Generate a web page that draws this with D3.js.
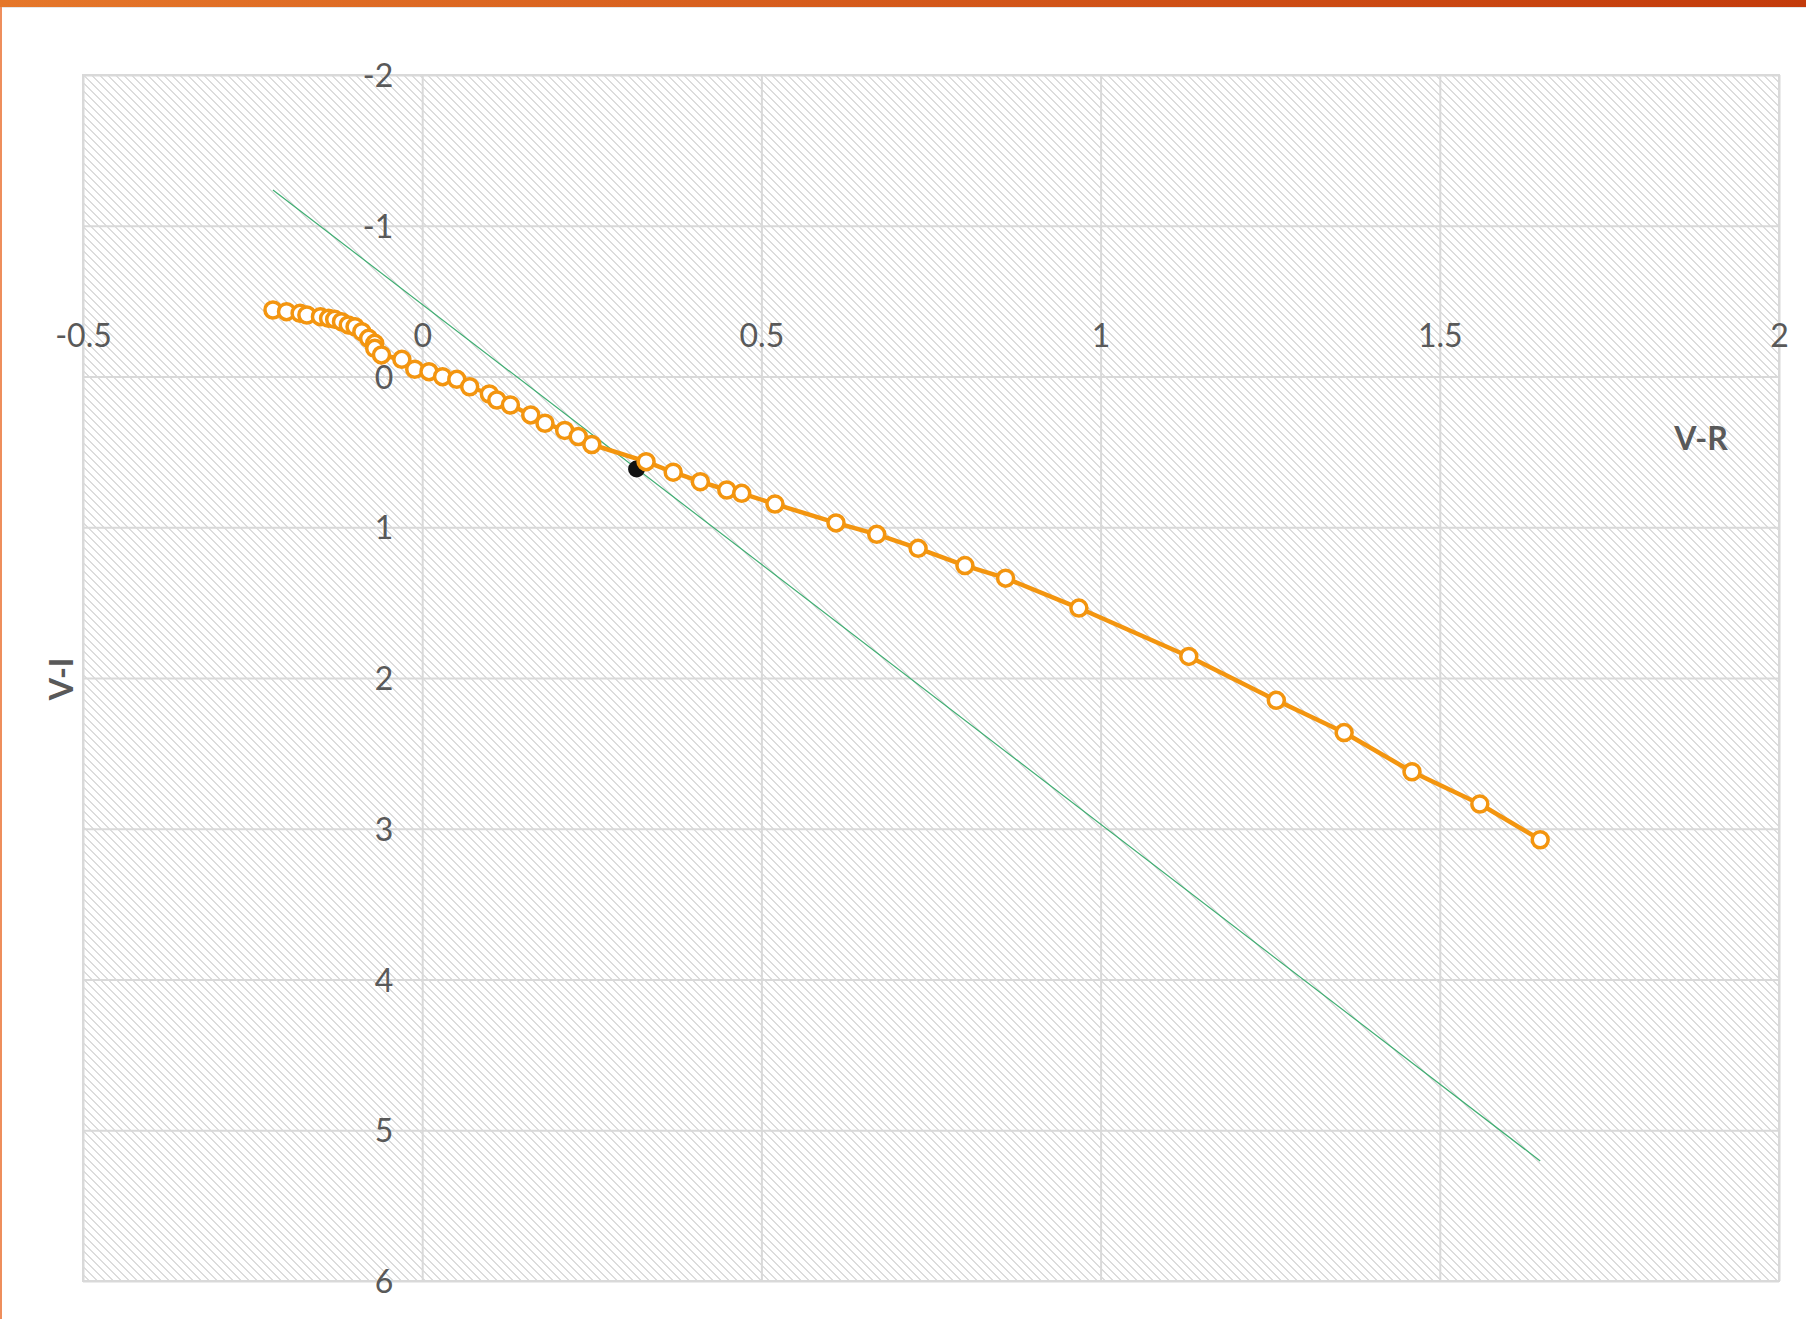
<!DOCTYPE html>
<html>
<head>
<meta charset="utf-8">
<script src="https://cdn.jsdelivr.net/npm/d3@7"></script>
<style>
  html, body { margin: 0; padding: 0; background: #fff; }
  svg { display: block; }
</style>
</head>
<body>
<script>
// ---- data ----
const vrValues = [-0.220, -0.200, -0.180, -0.170, -0.150, -0.138, -0.129, -0.119, -0.109, -0.099,
  -0.089, -0.079, -0.070, -0.070, -0.060, -0.030, -0.011, 0.010, 0.030, 0.051,
  0.070, 0.099, 0.110, 0.130, 0.160, 0.181, 0.210, 0.230, 0.250, 0.330,
  0.370, 0.410, 0.449, 0.471, 0.520, 0.610, 0.670, 0.731, 0.800, 0.860,
  0.968, 1.130, 1.259, 1.359, 1.459, 1.559, 1.648];
const viValues = [-0.441, -0.430, -0.419, -0.408, -0.397, -0.386, -0.379, -0.364, -0.342, -0.330,
  -0.297, -0.253, -0.220, -0.187, -0.143, -0.114, -0.048, -0.032, 0.001, 0.019,
  0.068, 0.116, 0.156, 0.189, 0.255, 0.310, 0.358, 0.398, 0.451, 0.565,
  0.635, 0.698, 0.753, 0.775, 0.846, 0.971, 1.047, 1.140, 1.254, 1.338,
  1.536, 1.857, 2.148, 2.362, 2.622, 2.836, 3.073];
const markedVR = [0.316];
const markedVI = [0.614];
const fitVR = [-0.220, 1.648];
const fitVI = [-1.237, 5.204];
const xTicks = [-0.5, 0, 0.5, 1, 1.5, 2];
const xTickLabels = ["-0.5", "0", "0.5", "1", "1.5", "2"];
const yTicks = [-2, -1, 0, 1, 2, 3, 4, 5, 6];
const yTickLabels = ["-2", "-1", "0", "1", "2", "3", "4", "5", "6"];
const xTitle = "V-R";
const yTitle = "V-I";

// ---- layout ----
const W = 1806, H = 1319;
const plot = { left: 83, top: 75, right: 1779, bottom: 1281 };
const font = "Lato, 'Open Sans', sans-serif";
const textColor = "#595959";
const gridColor = "#d9d9d9";
const orange = "#F3950F";

const svg = d3.select("body").append("svg").attr("width", W).attr("height", H);
const defs = svg.append("defs");

// top gradient bar
const grad = defs.append("linearGradient").attr("id", "topbar").attr("x1", "0%").attr("x2", "100%");
grad.append("stop").attr("offset", "0%").attr("stop-color", "#E5772A");
grad.append("stop").attr("offset", "100%").attr("stop-color", "#C33B0B");

// hatch pattern
const pat = defs.append("pattern").attr("id", "hatch").attr("patternUnits", "userSpaceOnUse")
  .attr("x", 0).attr("y", 0).attr("width", 8).attr("height", 8);
pat.append("rect").attr("width", 8).attr("height", 8).attr("fill", "#fff");
const cells = [];
for (let yy = 0; yy < 8; yy++) for (let xx = 0; xx < 8; xx++) {
  const d = ((xx - yy) % 8 + 8) % 8;
  if (d === 0 || d === 1) cells.push([xx, yy]);
}
pat.selectAll("rect.c").data(cells).join("rect").attr("class", "c")
  .attr("x", d => d[0]).attr("y", d => d[1]).attr("width", 1).attr("height", 1)
  .attr("fill", "#dcdcdc").attr("shape-rendering", "crispEdges");

// frame decorations
svg.append("rect").attr("x", 0).attr("y", 0).attr("width", W).attr("height", 7).attr("fill", "url(#topbar)");
svg.append("rect").attr("x", 0).attr("y", 7).attr("width", W).attr("height", 1).attr("fill", "#e6e6e6");
svg.append("rect").attr("x", 0).attr("y", 7).attr("width", 2).attr("height", H - 7).attr("fill", "#EE8E5C");

// scales
const x = d3.scaleLinear().domain([-0.5, 2]).range([plot.left, plot.right]);
const y = d3.scaleLinear().domain([-2, 6]).range([plot.top, plot.bottom]);

// plot background
svg.append("rect").attr("x", plot.left).attr("y", plot.top)
  .attr("width", plot.right - plot.left).attr("height", plot.bottom - plot.top)
  .attr("fill", "url(#hatch)");

// gridlines via axes
const gx = svg.append("g").attr("transform", `translate(0,${plot.bottom})`)
  .call(d3.axisBottom(x).tickValues(xTicks).tickSize(-(plot.bottom - plot.top)).tickFormat(""));
const gy = svg.append("g").attr("transform", `translate(${plot.left},0)`)
  .call(d3.axisLeft(y).tickValues(yTicks).tickSize(-(plot.right - plot.left)).tickFormat(""));
[gx, gy].forEach(g => {
  g.select(".domain").remove();
  g.selectAll(".tick line").attr("stroke", gridColor).attr("stroke-width", 2);
});

// plot border
svg.append("rect").attr("x", plot.left).attr("y", plot.top)
  .attr("width", plot.right - plot.left).attr("height", plot.bottom - plot.top)
  .attr("fill", "none").attr("stroke", gridColor).attr("stroke-width", 2);

// tick labels: x labels above y=0 line, y labels left of x=0 line
const ax = svg.append("g").attr("transform", `translate(0,${y(0)})`)
  .call(d3.axisTop(x).tickValues(xTicks).tickSize(0).tickPadding(30)
    .tickFormat((d, i) => xTickLabels[i]));
const ay = svg.append("g").attr("transform", `translate(${x(0)},0)`)
  .call(d3.axisLeft(y).tickValues(yTicks).tickSize(0).tickPadding(29)
    .tickFormat((d, i) => yTickLabels[i]));
[ax, ay].forEach(g => {
  g.select(".domain").remove();
  g.selectAll("text").attr("fill", textColor).style("font-family", font).style("font-size", "32px");
});
ay.selectAll("text").attr("dy", "0.36em");

// fit line
svg.append("line")
  .attr("x1", x(fitVR[0])).attr("y1", y(fitVI[0]))
  .attr("x2", x(fitVR[1])).attr("y2", y(fitVI[1]))
  .attr("stroke", "#3FAE72").attr("stroke-width", 1.2);

// series
const pts = vrValues.map((v, i) => [v, viValues[i]]);
svg.append("path").datum(pts)
  .attr("d", d3.line().x(d => x(d[0])).y(d => y(d[1])))
  .attr("fill", "none").attr("stroke", orange).attr("stroke-width", 4.5).attr("stroke-linejoin", "round");

// marked point
svg.selectAll("circle.mk").data(markedVR.map((v, i) => [v, markedVI[i]])).join("circle")
  .attr("class", "mk").attr("cx", d => x(d[0])).attr("cy", d => y(d[1])).attr("r", 8.5)
  .attr("fill", "#111");

svg.selectAll("circle.pt").data(pts).join("circle")
  .attr("class", "pt").attr("cx", d => x(d[0])).attr("cy", d => y(d[1])).attr("r", 8)
  .attr("fill", "#fff").attr("stroke", orange).attr("stroke-width", 3.5);

// axis titles
svg.append("text").attr("x", 1701).attr("y", 438).attr("text-anchor", "middle").attr("dy", "0.36em")
  .attr("fill", textColor).style("font-family", font).style("font-size", "32px").style("font-weight", "bold")
  .text(xTitle);
svg.append("text").attr("transform", "translate(61,679) rotate(-90)").attr("text-anchor", "middle").attr("dy", "0.36em")
  .attr("fill", textColor).style("font-family", font).style("font-size", "32px").style("font-weight", "bold")
  .text(yTitle);
</script>
</body>
</html>
